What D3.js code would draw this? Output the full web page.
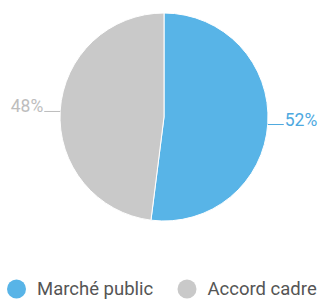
<!DOCTYPE html>
<html>
<head>
<meta charset="utf-8">
<script src="https://cdn.jsdelivr.net/npm/d3@7"></script>
<style>
  body { margin: 0; background: #fff; }
  svg { display: block; font-family: Roboto, sans-serif; }
</style>
</head>
<body>
<div id="chart"></div>
<script>
// chart data
const categories = ["Marché public", "Accord cadre"];
const values = [52, 48];
const colors = ["#58b4e7", "#c9c9c9"];
const labelColors = ["#4ea9df", "#bdbdbd"];

const width = 322, height = 301;
const cx = 164, cy = 117, radius = 104;

const svg = d3.select("#chart").append("svg")
    .attr("width", width)
    .attr("height", height);

const g = svg.append("g")
    .attr("transform", "translate(" + cx + "," + cy + ")");

const pie = d3.pie().sort(null).value(function (d) { return d; });
const arcs = pie(values);
const arc = d3.arc().innerRadius(0).outerRadius(radius);

g.selectAll("path.slice")
    .data(arcs)
    .enter().append("path")
    .attr("class", "slice")
    .attr("d", arc)
    .attr("fill", function (d, i) { return colors[i]; })
    .attr("stroke", "#fff")
    .attr("stroke-width", 1);

// labels with short horizontal leader lines
arcs.forEach(function (d, i) {
    const mid = (d.startAngle + d.endAngle) / 2;
    const px = Math.sin(mid) * radius;
    const py = -Math.cos(mid) * radius;
    const dir = px > 0 ? 1 : -1;
    g.append("line")
        .attr("x1", px).attr("y1", py + 1)
        .attr("x2", px + dir * 16).attr("y2", py + 1)
        .attr("stroke", labelColors[i])
        .attr("stroke-width", 1);
    g.append("text")
        .attr("x", px + dir * 17)
        .attr("y", py + 2)
        .attr("text-anchor", dir > 0 ? "start" : "end")
        .attr("fill", labelColors[i])
        .style("font-size", "17.5px")
        .text(values[i] + "%");
});

// legend
const legendX = [16.5, 187];
const legend = svg.selectAll("g.legend")
    .data(categories)
    .enter().append("g")
    .attr("class", "legend")
    .attr("transform", function (d, i) { return "translate(" + legendX[i] + ",289)"; });

legend.append("circle")
    .attr("r", 9.5)
    .attr("fill", function (d, i) { return colors[i]; });

legend.append("text")
    .attr("x", 20.5)
    .attr("dy", "0.35em")
    .attr("fill", "#555")
    .style("font-size", "18.5px")
    .text(function (d) { return d; });
</script>
</body>
</html>
